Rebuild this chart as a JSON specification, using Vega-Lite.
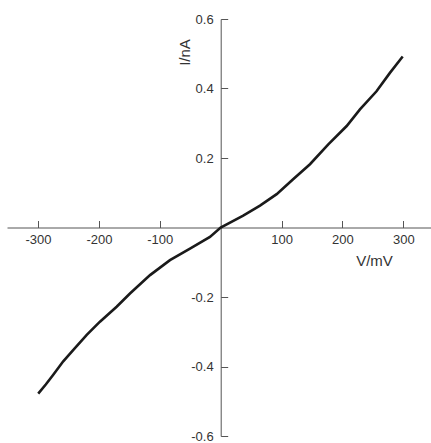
{
  "$schema": "https://vega.github.io/schema/vega-lite/v6.json",
  "autosize": "none",
  "width": 424,
  "height": 417,
  "padding": {"left": 7, "top": 19, "right": 0, "bottom": 7},
  "background": "white",
  "config": {
    "view": {"stroke": null},
    "font": "Liberation Sans",
    "axis": {
      "domainColor": "#555555",
      "tickColor": "#555555",
      "labelColor": "#333333",
      "titleColor": "#333333",
      "labelFont": "Liberation Sans",
      "titleFont": "Liberation Sans",
      "labelFontSize": 13,
      "titleFontSize": 15,
      "titleFontWeight": "normal",
      "grid": false,
      "domainWidth": 1,
      "tickWidth": 1
    }
  },
  "data": {
    "values": [
      {"V": -299.7, "I": -0.478},
      {"V": -287, "I": -0.451},
      {"V": -275, "I": -0.4235},
      {"V": -258.6, "I": -0.385},
      {"V": -242, "I": -0.352},
      {"V": -220, "I": -0.309},
      {"V": -198.3, "I": -0.271},
      {"V": -170.9, "I": -0.228},
      {"V": -149, "I": -0.19},
      {"V": -116, "I": -0.137},
      {"V": -83.3, "I": -0.094},
      {"V": -50.4, "I": -0.061},
      {"V": -17.6, "I": -0.027},
      {"V": 0, "I": 0},
      {"V": 37, "I": 0.034},
      {"V": 64.6, "I": 0.063},
      {"V": 92, "I": 0.096},
      {"V": 119, "I": 0.139},
      {"V": 146.7, "I": 0.182},
      {"V": 176.8, "I": 0.239},
      {"V": 207, "I": 0.292},
      {"V": 228.8, "I": 0.34},
      {"V": 256, "I": 0.392},
      {"V": 278, "I": 0.445},
      {"V": 299, "I": 0.492}
    ]
  },
  "mark": {"type": "line", "color": "#1a1a1a", "strokeWidth": 2.6, "clip": false},
  "encoding": {
    "x": {
      "field": "V",
      "type": "quantitative",
      "scale": {"domain": [-351, 345.5], "nice": false, "zero": false},
      "axis": {
        "orient": "bottom",
        "offset": -208.5,
        "values": [-300, -200, -100, 100, 200, 300],
        "labelExpr": "'' + datum.value",
        "tickSize": -7,
        "labelPadding": 13,
        "title": "V/mV",
        "titleX": 367,
        "titleY": 33,
        "titleAlign": "center",
        "titleBaseline": "middle",
        "titleAngle": 0
      }
    },
    "y": {
      "field": "I",
      "type": "quantitative",
      "scale": {"domain": [-0.6, 0.6], "nice": false, "zero": false},
      "axis": {
        "orient": "left",
        "offset": -213.7,
        "values": [-0.6, -0.4, -0.2, 0.2, 0.4, 0.6],
        "labelExpr": "'' + datum.value",
        "tickSize": -7,
        "labelPadding": 14.5,
        "title": "I/nA",
        "titleX": -36.7,
        "titleY": 33,
        "titleAlign": "center",
        "titleBaseline": "middle",
        "titleAngle": -90
      }
    }
  }
}
